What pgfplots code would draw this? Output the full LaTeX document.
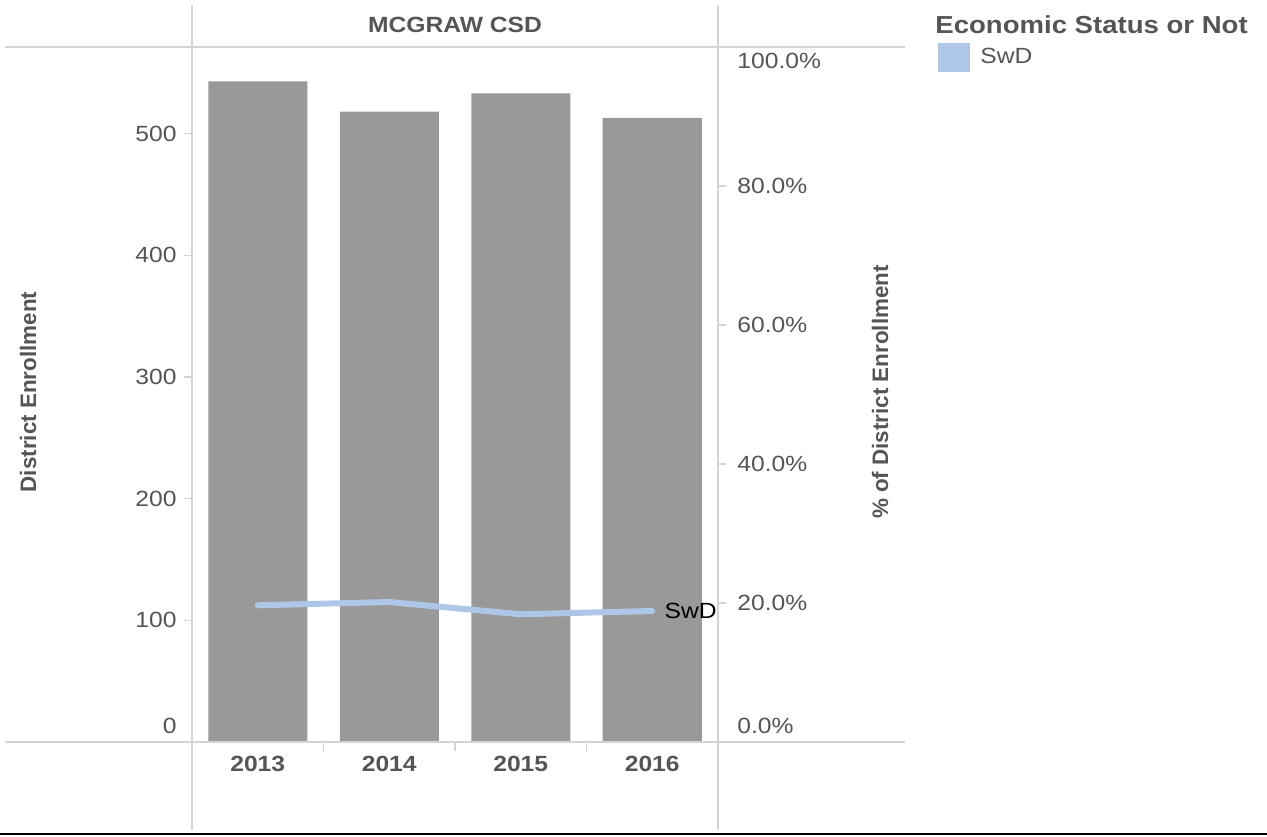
\documentclass[border=0pt]{standalone}
\usepackage{pgfplots}
\pgfplotsset{compat=1.18}
\usepackage{fontspec}
\setmainfont{Liberation Sans}[FakeStretch=1.12]
\newfontfamily\rotfont{Liberation Sans}
\definecolor{gridgray}{HTML}{D4D4D4}
\definecolor{bargray}{HTML}{999999}
\definecolor{swd}{HTML}{AEC7E8}
\definecolor{txt}{HTML}{555555}
\pgfplotsset{every tick label/.append style={font=\fontsize{11}{13}\selectfont, text=txt}}
\begin{document}
\begin{tikzpicture}
\useasboundingbox (0,0) rectangle (633.5pt,418pt);
% left axis: enrollment bars
\begin{axis}[
  at={(96pt,47pt)}, anchor=south west,
  scale only axis, width=263pt, height=347.5pt,
  xmin=-0.5, xmax=3.5, ymin=0, ymax=571.2,
  axis line style={draw=none},
  ybar, bar width=49.5pt,
  xtick={0,1,2,3}, xticklabels={2013,2014,2015,2016},
  xtick style={draw=none},
  xticklabel style={font=\bfseries\fontsize{11}{13}\selectfont, inner sep=0pt, yshift=-3pt},
  ytick pos=left, xtick pos=bottom,
  ytick={100,200,300,400,500}, yticklabels={100,200,300,400,500},
  ytick style={draw=gridgray, line width=0.8pt},
  major tick length=4pt, tick align=outside,
  yticklabel style={anchor=east, inner sep=0pt, xshift=-3.5pt},
  extra y ticks={0}, extra y tick labels={0},
  extra y tick style={ytick style={draw=none}, yticklabel style={yshift=8pt}},
  clip=false,
]
\addplot[fill=bargray, draw=none] coordinates {(0,543) (1,518) (2,533) (3,513)};
\draw[gridgray, line width=0.8pt] (axis cs:0.5,0) -- ++(0pt,-4.5pt);
\draw[gridgray, line width=0.8pt] (axis cs:1.5,0) -- ++(0pt,-4.5pt);
\draw[gridgray, line width=0.8pt] (axis cs:2.5,0) -- ++(0pt,-4.5pt);
\end{axis}
% right axis: percent line
\begin{axis}[
  at={(96pt,47pt)}, anchor=south west,
  scale only axis, width=263pt, height=347.5pt,
  xmin=-0.5, xmax=3.5, ymin=0, ymax=100,
  axis line style={draw=none},
  xtick=\empty,
  ytick pos=right,
  ytick={20,40,60,80}, yticklabels={20.0\%,40.0\%,60.0\%,80.0\%},
  ytick style={draw=gridgray, line width=0.8pt},
  major tick length=4pt, tick align=outside,
  yticklabel style={anchor=west, inner sep=0pt, xshift=5.5pt},
  extra y ticks={0}, extra y tick labels={0.0\%},
  extra y tick style={ytick style={draw=none}, yticklabel style={yshift=8pt}},
  clip=false,
  legend style={at={(1.4183,0.9849)}, anchor=west, draw=none, fill=none, inner sep=0pt,
    font=\fontsize{11}{13}\selectfont, text=txt, nodes={inner sep=0pt}, /tikz/column sep=5pt},
  legend image code/.code={\fill[swd, draw=none] (0pt,-7.25pt) rectangle (16pt,7.25pt);},
]
\addplot[swd, line width=3pt, line cap=round, line join=round] coordinates {(0,19.67) (1,20.14) (2,18.38) (3,18.85)};
\addlegendentry{SwD}
\node[anchor=west, inner sep=0pt, font=\fontsize{11}{13}\selectfont] at (axis cs:3,18.85) [xshift=6pt] {SwD};
\node[anchor=west, inner sep=0pt, font=\fontsize{11}{13}\selectfont, text=txt] at (rel axis cs:1,1) [xshift=9.5pt, yshift=-7pt] {100.0\%};
\end{axis}
% frame lines
\draw[gridgray, line width=0.9pt] (2.5pt,394.5pt) -- (452.5pt,394.5pt);
\draw[gridgray, line width=0.9pt] (2.5pt,47pt) -- (452.5pt,47pt);
\draw[gridgray, line width=0.9pt] (96pt,415.5pt) -- (96pt,3pt);
\draw[gridgray, line width=0.9pt] (359pt,415.5pt) -- (359pt,3pt);
\draw[black, line width=1pt] (0,1pt) -- (633.5pt,1pt);
% titles
\node[font=\bfseries\fontsize{11}{13}\selectfont, text=txt] at (227.5pt,405.5pt) {MCGRAW CSD};
\node[rotate=90, font=\rotfont\bfseries\fontsize{11.2}{13}\selectfont, text=txt] at (14pt,222pt) {District Enrollment};
\node[rotate=90, font=\rotfont\bfseries\fontsize{11.2}{13}\selectfont, text=txt] at (440pt,222pt) {\% of District Enrollment};
\node[anchor=west, inner sep=0pt, font=\bfseries\fontsize{12.3}{14}\selectfont, text=txt] at (467.5pt,405.5pt) {Economic Status or Not};
\end{tikzpicture}
\end{document}
